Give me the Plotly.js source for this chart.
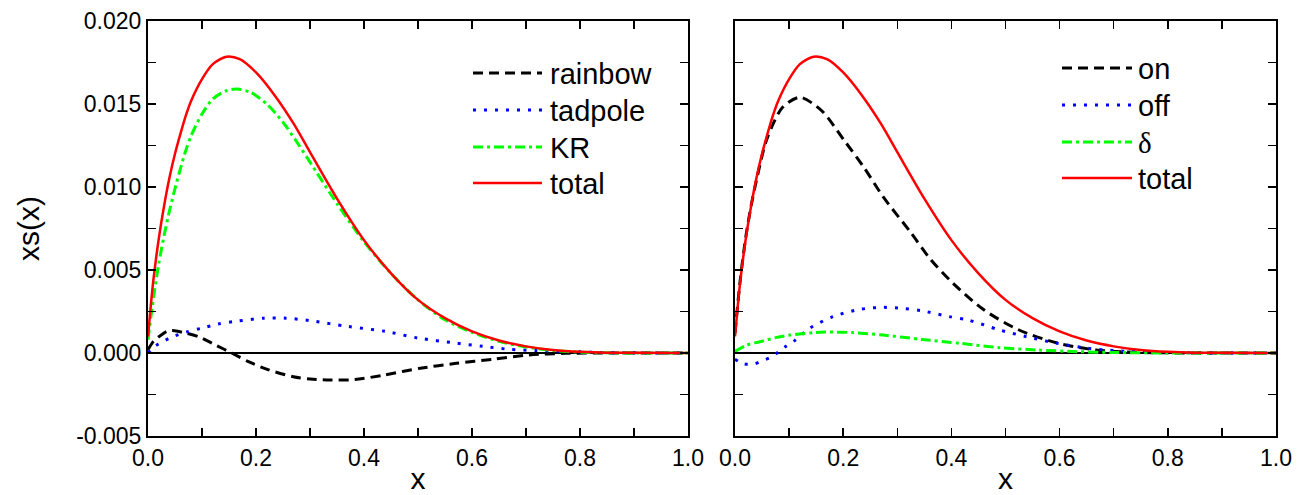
<!DOCTYPE html>
<html>
<head>
<meta charset="utf-8">
<script src="https://cdn.plot.ly/plotly-3.0.1.min.js"></script>
<style>html,body{margin:0;padding:0;background:#fff;}#chart{width:1297px;height:495px;}</style>
</head>
<body>
<div id="chart"></div>
<script>
// ---------------- data ----------------
const leftNames  = ['rainbow', 'tadpole', 'KR', 'total'];
const rightNames = ['on', 'off', 'δ', 'total'];

const totalX = [0, 0.005, 0.01, 0.02, 0.03, 0.04, 0.05, 0.06, 0.07, 0.08, 0.1, 0.12, 0.145, 0.17, 0.2, 0.235, 0.27, 0.3, 0.35, 0.4, 0.45, 0.5, 0.55, 0.6, 0.65, 0.7, 0.75, 0.8, 0.85, 0.9, 1.0];
const totalY = [0.0010, 0.0028, 0.0044, 0.0069, 0.0089, 0.0106, 0.0120, 0.0132, 0.0143, 0.0152, 0.0165, 0.0174, 0.01785, 0.0177, 0.0169, 0.0155, 0.0138, 0.0121, 0.0093, 0.0068, 0.0048, 0.0032, 0.0021, 0.0013, 0.00075, 0.0004, 0.00018, 0.00007, 0.00002, 0.00001, 0];

const rainbowX = [0, 0.01, 0.021, 0.035, 0.046, 0.07, 0.094, 0.125, 0.155, 0.186, 0.222, 0.269, 0.3, 0.337, 0.383, 0.437, 0.504, 0.571, 0.638, 0.706, 0.773, 0.85, 1.0];
const rainbowY = [0.0002, 0.0007, 0.0010, 0.0013, 0.00135, 0.0012, 0.00098, 0.00048, 0, -0.00052, -0.0010, -0.00143, -0.00157, -0.00163, -0.0016, -0.00133, -0.00092, -0.00062, -0.00038, -0.00012, -0.00002, 0, 0];

const tadpoleX = [0, 0.015, 0.043, 0.073, 0.1, 0.13, 0.16, 0.215, 0.255, 0.3, 0.37, 0.44, 0.5, 0.57, 0.62, 0.67, 0.72, 0.77, 0.86, 1.0];
const tadpoleY = [0, 0.00045, 0.00094, 0.00128, 0.0015, 0.00175, 0.0019, 0.0021, 0.0021, 0.00195, 0.0016, 0.0013, 0.0009, 0.0006, 0.0004, 0.00022, 0.00015, 0.0001, 0.00002, 0];

const krX = [0, 0.01, 0.02, 0.03, 0.04, 0.05, 0.06, 0.07, 0.08, 0.1, 0.12, 0.145, 0.165, 0.19, 0.22, 0.25, 0.28, 0.3, 0.35, 0.4, 0.45, 0.5, 0.55, 0.6, 0.65, 0.7, 0.75, 0.8, 0.85, 1.0];
const krY = [0.0008, 0.0033, 0.0054, 0.0071, 0.0086, 0.0099, 0.0111, 0.0122, 0.0131, 0.0144, 0.0153, 0.0158, 0.0159, 0.0157, 0.0150, 0.0139, 0.0125, 0.0115, 0.0090, 0.0067, 0.0048, 0.0032, 0.0020, 0.00125, 0.0007, 0.00036, 0.00015, 0.00005, 0.00001, 0];

const onX = [0, 0.01, 0.02, 0.03, 0.041, 0.059, 0.088, 0.12, 0.16, 0.202, 0.238, 0.274, 0.324, 0.36, 0.403, 0.46, 0.524, 0.596, 0.667, 0.739, 0.8, 0.9, 1.0];
const onY = [0.0012, 0.0045, 0.0070, 0.0089, 0.0106, 0.0129, 0.0148, 0.0154, 0.0146, 0.0128, 0.0112, 0.0094, 0.0073, 0.0057, 0.0042, 0.0026, 0.0014, 0.0006, 0.00018, 0.00004, 0.00001, 0, 0];

const offX = [0, 0.0166, 0.035, 0.051, 0.066, 0.081, 0.095, 0.111, 0.138, 0.181, 0.231, 0.274, 0.31, 0.345, 0.396, 0.431, 0.489, 0.539, 0.596, 0.653, 0.703, 0.775, 0.85, 1.0];
const offY = [-0.00038, -0.00066, -0.00066, -0.00046, -0.00026, 0.00008, 0.00042, 0.00076, 0.00149, 0.00219, 0.00263, 0.00275, 0.00269, 0.00255, 0.00219, 0.00199, 0.00139, 0.00098, 0.00058, 0.00028, 0.00014, 0.00005, 0.00001, 0];

const deltaX = [0, 0.022, 0.046, 0.077, 0.102, 0.144, 0.167, 0.217, 0.274, 0.345, 0.417, 0.489, 0.56, 0.632, 0.703, 0.8, 1.0];
const deltaY = [0.0001, 0.00048, 0.00068, 0.00094, 0.00108, 0.00122, 0.00126, 0.00123, 0.00108, 0.00082, 0.00058, 0.00032, 0.00018, 0.00008, 0.00003, 0, 0];

const xTickVals = [0, 0.2, 0.4, 0.6, 0.8, 1.0];
const xTickText = ['0.0', '0.2', '0.4', '0.6', '0.8', '1.0'];
const yTickVals = [-0.005, 0, 0.005, 0.010, 0.015, 0.020];
const yTickText = ['-0.005', '0.000', '0.005', '0.010', '0.015', '0.020'];

// ---------------- styles ----------------
const FONT = '"Liberation Sans", Arial, sans-serif';
const styles = {
  dash:    {color: '#000000', width: 3,   dash: '10px,6px'},
  dot:     {color: '#0000ff', width: 3,   dash: '3px,8px'},
  dashdot: {color: '#00ff00', width: 3,   dash: '10px,4px,3px,4px'},
  solid:   {color: '#ff0000', width: 2.5, dash: 'solid'}
};
const styleOrder = ['dash', 'dot', 'dashdot', 'solid'];

function tr(x, y, name, st, xa, ya) {
  return {
    x: x, y: y, name: name, type: 'scatter', mode: 'lines',
    xaxis: xa, yaxis: ya, showlegend: false,
    line: Object.assign({shape: 'spline', smoothing: 0.8}, styles[st])
  };
}

const data = [
  tr(rainbowX, rainbowY, leftNames[0], 'dash', 'x', 'y'),
  tr(tadpoleX, tadpoleY, leftNames[1], 'dot', 'x', 'y'),
  tr(krX, krY, leftNames[2], 'dashdot', 'x', 'y'),
  tr(totalX, totalY, leftNames[3], 'solid', 'x', 'y'),
  tr(onX, onY, rightNames[0], 'dash', 'x2', 'y2'),
  tr(offX, offY, rightNames[1], 'dot', 'x2', 'y2'),
  tr(deltaX, deltaY, rightNames[2], 'dashdot', 'x2', 'y2'),
  tr(totalX, totalY, rightNames[3], 'solid', 'x2', 'y2')
];

function xAxis(domain, anchor) {
  return {
    domain: domain, anchor: anchor, range: [0, 1], autorange: false,
    tickvals: xTickVals, ticktext: xTickText,
    ticks: 'inside', ticklen: 8, tickwidth: 1.5, tickcolor: '#000',
    minor: {tick0: 0, dtick: 0.1, ticks: 'inside', ticklen: 8, tickwidth: 1.5, tickcolor: '#000', showgrid: false},
    showline: true, linewidth: 2, linecolor: '#000', mirror: 'allticks',
    showgrid: false, zeroline: false, automargin: false,
    tickfont: {family: FONT, size: 23, color: '#000'},
    title: {text: 'x', font: {family: FONT, size: 30, color: '#000'}, standoff: 4}
  };
}
function yAxis(anchor, labels) {
  return {
    anchor: anchor, range: [-0.005, 0.020], autorange: false,
    tickvals: yTickVals, ticktext: yTickText, showticklabels: labels,
    ticks: 'inside', ticklen: 8, tickwidth: 1.5, tickcolor: '#000',
    minor: {tick0: 0, dtick: 0.0025, ticks: 'inside', ticklen: 8, tickwidth: 1.5, tickcolor: '#000', showgrid: false},
    showline: true, linewidth: 2, linecolor: '#000', mirror: 'allticks',
    showgrid: false, zeroline: true, zerolinecolor: '#000', zerolinewidth: 2,
    automargin: false,
    tickfont: {family: FONT, size: 23, color: '#000'},
    title: labels ? {text: 'xs(x)', font: {family: FONT, size: 30, color: '#000'}, standoff: 28} : {text: ''}
  };
}

// legend drawn as sample lines + text in paper coordinates
const M = {l: 148, r: 21, t: 21, b: 59};
const W = 1297, H = 495;
const pw = W - M.l - M.r, ph = H - M.t - M.b;
const px = v => (v - M.l) / pw;
const py = v => (H - M.b - v) / ph;

const shapes = [], annotations = [];
function legend(names, x0, x1, xt, ys) {
  names.forEach((n, i) => {
    const st = styles[styleOrder[i]];
    shapes.push({type: 'line', xref: 'paper', yref: 'paper',
      x0: px(x0), x1: px(x1), y0: py(ys[i]), y1: py(ys[i]),
      line: {color: st.color, width: st.width, dash: st.dash}});
    annotations.push({xref: 'paper', yref: 'paper', x: px(xt), y: py(ys[i] + 1),
      xanchor: 'left', yanchor: 'middle', showarrow: false, text: n,
      font: {family: n === 'δ' ? '"Liberation Serif", "Times New Roman", serif' : FONT, size: 29, color: '#000'}});
  });
}
legend(leftNames, 473, 542, 548, [73, 110, 147, 183]);
legend(rightNames, 1062, 1132, 1136, [68, 105, 142, 178]);

const layout = {
  width: W, height: H, margin: M,
  paper_bgcolor: '#fff', plot_bgcolor: '#fff',
  font: {family: FONT, color: '#000'},
  showlegend: false,
  xaxis: xAxis([0, 540 / pw], 'y'),
  yaxis: yAxis('x', true),
  xaxis2: xAxis([(735 - M.l) / pw, 1], 'y2'),
  yaxis2: yAxis('x2', false),
  shapes: shapes, annotations: annotations
};

Plotly.newPlot('chart', data, layout, {staticPlot: true, displayModeBar: false});
</script>
</body>
</html>
